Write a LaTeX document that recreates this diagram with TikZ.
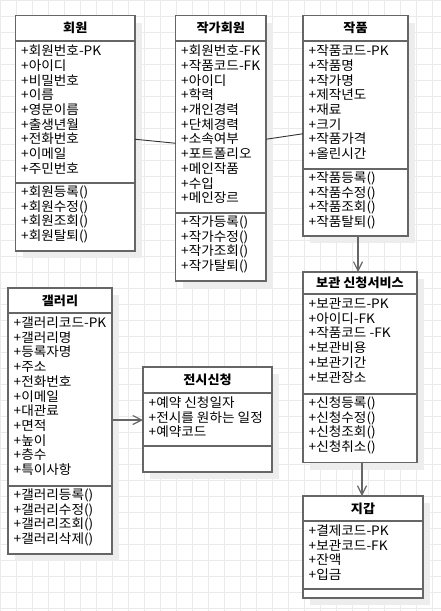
\documentclass[tikz,border=0pt]{standalone}
\usepackage{fontspec}
\setmainfont[FakeStretch=1.05]{Noto Sans CJK KR}
\usetikzlibrary{arrows.meta,calc}
\definecolor{gridc}{HTML}{EAEAEA}
\definecolor{shadowc}{HTML}{EDEDED}
\definecolor{linec}{HTML}{666666}
\tikzset{
  gridline/.style={draw=gridc, line width=0.9pt},
  boxst/.style={draw=linec, line width=1.6pt, fill=white, inner sep=0pt, outer sep=0pt},
  boxline/.style={draw=linec, line width=1.6pt},
  titlest/.style={font=\fontsize{12.5}{14}\selectfont\bfseries, inner sep=0pt},
  itemst/.style={font=\fontsize{13}{14}\selectfont, anchor=west, inner sep=0pt, text height=10pt, text depth=2pt},
  assoc/.style={draw=black!80, line width=0.9pt},
  arr/.style={draw=linec, line width=1.5pt, -{Straight Barb[length=9pt,width=9pt,line width=1.2pt]}},
}
\newcommand{\umlbox}[8]{%
  \fill[shadowc] (#2+7,#3+7) rectangle (#4+7,#5+7);
  \node[boxst, anchor=north west, minimum width={#4pt-#2pt}, minimum height={#5pt-#3pt}] (#1) at (#2,#3) {};
  \draw[boxline] (#2,#6) -- (#4,#6);
  \draw[boxline] (#2,#7) -- (#4,#7);
  \node[titlest] at ({(#2+#4)/2},{(#3+#6)/2}) {#8};
}
\newcommand{\umllines}[3]{%
  \foreach \t [count=\k from 0] in {#3} {\node[itemst] at (#1+5.5,{#2+\k*14.7}) {\t};}
}
\begin{document}
\begin{tikzpicture}[x=1pt,y=-1pt]
\useasboundingbox (0,0) rectangle (441,611);
\fill[white] (0,0) rectangle (441,611);
\foreach \i in {0,16,...,432} {\draw[gridline] (\i,0) -- (\i,611);}
\foreach \j in {0,16,...,608} {\draw[gridline] (0,\j) -- (441,\j);}

% 회원
\umlbox{hw}{15.5}{15.5}{135}{251}{41}{183}{회원}
\umllines{15.5}{51.7}{+회원번호-PK,+아이디,+비밀번호,+이름,+영문이름,+출생년월,+전화번호,+이메일,+주민번호}
\umllines{15.5}{192.5}{+회원등록(),+회원수정(),+회원조회(),+회원탈퇴()}

% 작가회원
\umlbox{jk}{175.5}{15.5}{266}{281}{41}{213}{작가회원}
\umllines{175.5}{51.7}{+회원번호-FK,+작품코드-FK,+아이디,+학력,+개인경력,+단체경력,+소속여부,+포트폴리오,+메인작품,+수입,+메인장르}
\umllines{175.5}{222.5}{+작가등록(),+작가수정(),+작가조회(),+작가탈퇴()}

% 작품
\umlbox{jp}{303}{15.5}{408}{236}{41}{169}{작품}
\umllines{303}{51.7}{+작품코드-PK,+작품명,+작가명,+제작년도,+재료,+크기,+작품가격,+올린시간}
\umllines{303}{178.5}{+작품등록(),+작품수정(),+작품조회(),+작품탈퇴()}

% 갤러리
\umlbox{gl}{8}{288}{112}{554}{313}{486}{갤러리}
\umllines{8}{323.5}{+갤러리코드-PK,+갤러리명,+등록자명,+주소,+전화번호,+이메일,+대관료,+면적,+높이,+층수,+특이사항}
\umllines{8}{495.5}{+갤러리등록(),+갤러리수정(),+갤러리조회(),+갤러리삭제()}

% 전시신청
\umlbox{js}{143}{367}{272}{472}{393}{446}{전시신청}
\umllines{143}{403.5}{+예약 신청일자,+전시를 원하는 일정,+예약코드}

% 보관 신청서비스
\umlbox{bg}{303}{272}{417}{462.5}{294}{394}{보관 신청서비스}
\umllines{303}{304.5}{+보관코드-PK,+아이디-FK,+작품코드 -FK,+보관비용,+보관기간,+보관장소}
\umllines{303}{403.5}{+신청등록(),+신청수정(),+신청조회(),+신청취소()}

% 지갑
\umlbox{jg}{303}{496}{423}{598}{521}{589}{지갑}
\umllines{303}{531.5}{+결제코드-PK,+보관코드-FK,+잔액,+입금}

% connectors
\draw[assoc] ([yshift=-6pt]hw.east) -- ([yshift=5pt]jk.west);
\draw[assoc] ([yshift=9pt]jk.east) -- ([yshift=-8pt]jp.west);
\draw[arr] ([xshift=2.5pt]jp.south) -- ([xshift=-2pt]bg.north);
\draw[arr] ([xshift=2pt]bg.south) -- ([xshift=2pt]bg.south |- jg.north);
\draw[arr] ([yshift=1pt]gl.east) -- ([yshift=1pt]gl.east -| js.west);
\end{tikzpicture}
\end{document}
